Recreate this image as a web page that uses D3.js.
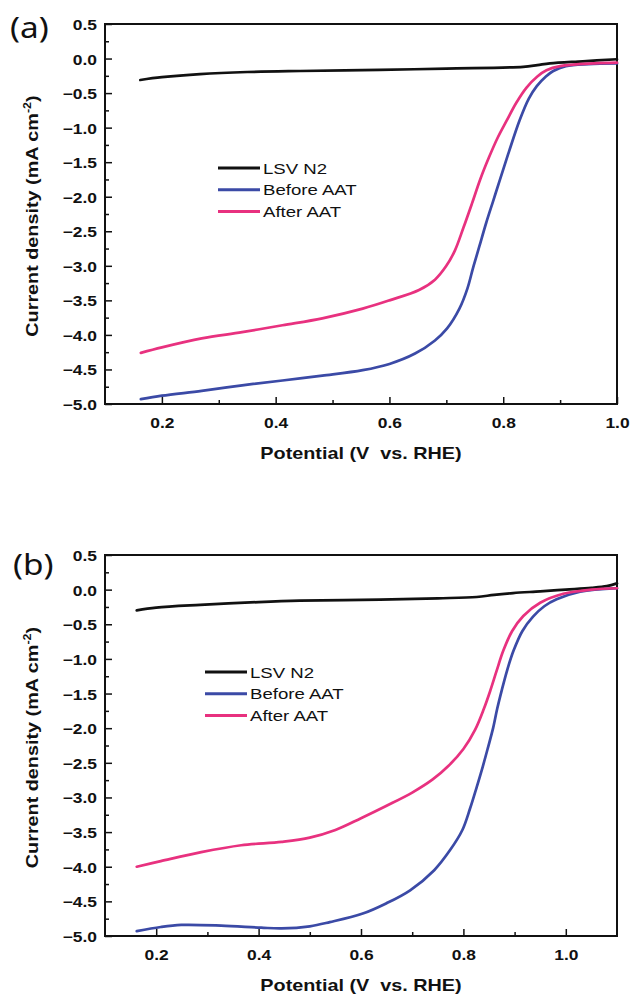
<!DOCTYPE html>
<html lang="en">
<head>
<meta charset="UTF-8"/>
<title>LSV curves before and after AAT</title>
<script src="https://d3js.org/d3.v7.min.js"></script>
<style>
  body { margin: 0; background: #fff; }
  svg { display: block; }
  .tick text { font-family: "Liberation Sans", Arial, sans-serif; font-weight: bold; font-size: 14.5px; fill: #111; }
  .tick line { stroke: #111; stroke-width: 1.5px; }
  .frame { fill: none; stroke: #111; stroke-width: 2px; }
  .curve { fill: none; stroke-width: 2.7px; stroke-linejoin: round; stroke-linecap: round; }
  .title { font-family: "Liberation Sans", Arial, sans-serif; font-weight: bold; font-size: 16.5px; fill: #111; }
  .legend text { font-family: "Liberation Sans", Arial, sans-serif; font-size: 15.5px; fill: #111; }
  .panel-label { font-family: "Noto Sans", sans-serif; font-size: 29px; fill: #111; }
</style>
</head>
<body>
<svg id="chart" width="631" height="995"></svg>
<script>
// series shown in both panels
const seriesNames = ['LSV N2', 'Before AAT', 'After AAT'];

// axis ticks
const yMajor = [0.5, 0.0, -0.5, -1.0, -1.5, -2.0, -2.5, -3.0, -3.5, -4.0, -4.5, -5.0];
const yMinor = [0.25, -0.25, -0.75, -1.25, -1.75, -2.25, -2.75, -3.25, -3.75, -4.25, -4.75];
const xMajor = [0.2, 0.4, 0.6, 0.8, 1.0];
const xMinor = [0.3, 0.5, 0.7, 0.9];
const yDomain = [-5.0, 0.5];
const xDomainA = [0.1, 1.0];
const xDomainB = [0.1, 1.1];

// panel (a): [potential V vs RHE, current density mA cm-2]
const aN2 = [[0.162,-0.31],[0.2,-0.27],[0.267,-0.225],[0.35,-0.195],[0.443,-0.18],[0.583,-0.165],
  [0.7,-0.145],[0.835,-0.12],[0.86,-0.095],[0.882,-0.07],[0.94,-0.04],[1.0,-0.01]];
const aBefore = [[0.163,-4.93],[0.2,-4.88],[0.27,-4.81],[0.341,-4.73],[0.412,-4.66],[0.482,-4.59],
  [0.553,-4.51],[0.6,-4.42],[0.645,-4.27],[0.68,-4.08],[0.701,-3.91],[0.723,-3.62],[0.737,-3.33],
  [0.747,-3.03],[0.758,-2.72],[0.77,-2.38],[0.782,-2.07],[0.794,-1.76],[0.81,-1.35],[0.829,-0.89],
  [0.845,-0.58],[0.859,-0.4],[0.875,-0.26],[0.888,-0.18],[0.91,-0.11],[0.95,-0.08],[1.0,-0.07]];
const aAfter = [[0.163,-4.26],[0.2,-4.18],[0.27,-4.05],[0.341,-3.96],[0.412,-3.86],[0.482,-3.76],
  [0.553,-3.62],[0.6,-3.5],[0.652,-3.35],[0.68,-3.2],[0.7,-3.0],[0.715,-2.78],[0.73,-2.45],
  [0.745,-2.1],[0.76,-1.74],[0.775,-1.43],[0.79,-1.15],[0.806,-0.9],[0.823,-0.64],[0.841,-0.42],
  [0.86,-0.26],[0.876,-0.17],[0.9,-0.11],[0.96,-0.07],[1.0,-0.06]];

// panel (b)
const bN2 = [[0.162,-0.3],[0.2,-0.26],[0.286,-0.22],[0.4,-0.18],[0.48,-0.16],[0.637,-0.145],
  [0.75,-0.125],[0.826,-0.106],[0.86,-0.075],[0.897,-0.05],[0.95,-0.025],[1.0,0.0],[1.05,0.025],
  [1.08,0.05],[1.1,0.09]];
const bBefore = [[0.162,-4.93],[0.209,-4.87],[0.249,-4.84],[0.327,-4.85],[0.405,-4.88],[0.445,-4.89],
  [0.5,-4.86],[0.539,-4.8],[0.602,-4.68],[0.649,-4.53],[0.696,-4.34],[0.743,-4.05],[0.774,-3.76],
  [0.798,-3.47],[0.813,-3.16],[0.826,-2.85],[0.838,-2.55],[0.848,-2.28],[0.858,-2.0],[0.866,-1.72],
  [0.875,-1.45],[0.886,-1.15],[0.898,-0.88],[0.915,-0.6],[0.936,-0.39],[0.958,-0.24],[0.982,-0.14],
  [1.028,-0.03],[1.1,0.02]];
const bAfter = [[0.162,-4.0],[0.209,-3.92],[0.288,-3.79],[0.366,-3.69],[0.445,-3.64],[0.5,-3.58],
  [0.55,-3.47],[0.6,-3.3],[0.65,-3.12],[0.7,-2.93],[0.74,-2.74],[0.77,-2.55],[0.8,-2.3],
  [0.823,-2.02],[0.84,-1.72],[0.852,-1.47],[0.865,-1.17],[0.878,-0.88],[0.895,-0.6],[0.917,-0.38],
  [0.95,-0.19],[0.995,-0.06],[1.05,0.0],[1.1,0.02]];

const colors = ['#111111', '#3b4aa6', '#e8317f'];
const stretch = 'scale(1.2,1)';   // the figure's lettering is wider than Arial

const svg = d3.select('#chart');

function drawPanel(p) {
  const x = d3.scaleLinear().domain(p.xDomain).range([105, 617]);
  const y = d3.scaleLinear().domain(yDomain).range([p.bottom, p.top]);
  const g = svg.append('g');

  // minor ticks, inward
  g.append('g').attr('transform', `translate(0,${p.bottom})`)
    .call(d3.axisBottom(x).tickValues(xMinor).tickSize(-4).tickSizeOuter(0).tickFormat(''))
    .call(a => a.select('.domain').remove());
  g.append('g').attr('transform', 'translate(105,0)')
    .call(d3.axisLeft(y).tickValues(yMinor).tickSize(-4).tickSizeOuter(0).tickFormat(''))
    .call(a => a.select('.domain').remove());

  // major ticks + labels
  g.append('g').attr('transform', `translate(0,${p.bottom})`)
    .call(d3.axisBottom(x).tickValues(xMajor).tickSize(-7).tickSizeOuter(0).tickFormat(d3.format('.1f')))
    .call(a => a.select('.domain').remove())
    .call(a => a.selectAll('text').attr('y', 24).attr('dy', null).attr('transform', stretch));
  g.append('g').attr('transform', 'translate(105,0)')
    .call(d3.axisLeft(y).tickValues(yMajor).tickSize(-7).tickSizeOuter(0).tickFormat(d3.format('.1f')))
    .call(a => a.select('.domain').remove())
    .call(a => a.selectAll('text').attr('x', -8 / 1.2).attr('dy', '0.38em').attr('transform', stretch));

  g.append('rect').attr('class', 'frame')
    .attr('x', 105).attr('y', p.top).attr('width', 512).attr('height', p.bottom - p.top);

  const line = d3.line().x(d => x(d[0])).y(d => y(d[1])).curve(d3.curveCatmullRom.alpha(0.5));
  p.series.forEach((s, i) => {
    g.append('path').attr('class', 'curve').attr('d', line(s)).attr('stroke', colors[i]);
  });

  // legend
  const lg = g.append('g').attr('class', 'legend');
  seriesNames.forEach((name, i) => {
    const ly = p.legendY + i * 21.7;
    lg.append('line').attr('x1', p.legendX).attr('x2', p.legendX + 42)
      .attr('y1', ly).attr('y2', ly).attr('stroke', colors[i]).attr('stroke-width', 3);
    lg.append('text').attr('transform', `translate(${p.legendX + 45},${ly}) ${stretch}`)
      .attr('dy', '0.36em').text(name);
  });

  // axis titles
  g.append('text').attr('class', 'title')
    .attr('transform', `translate(361,${p.bottom + 55}) ${stretch}`)
    .attr('text-anchor', 'middle').style('white-space', 'pre')
    .text('Potential (V  vs. RHE)');
  const yt = g.append('text').attr('class', 'title')
    .attr('transform', `translate(38,${(p.top + p.bottom) / 2 + 2}) rotate(-90) ${stretch}`)
    .attr('text-anchor', 'middle');
  yt.append('tspan').text('Current density (mA cm');
  yt.append('tspan').attr('dy', -7).style('font-size', '10.5px').text('-2');
  yt.append('tspan').attr('dy', 7).text(')');

  g.append('text').attr('class', 'panel-label')
    .attr('transform', `translate(${p.labelX},${p.labelY}) scale(1.15,1)`)
    .text(p.label);
}

drawPanel({ label: '(a)', labelX: 10, labelY: 38, top: 24, bottom: 404, xDomain: xDomainA,
  series: [aN2, aBefore, aAfter], legendX: 218, legendY: 168 });
drawPanel({ label: '(b)', labelX: 13, labelY: 575, top: 555, bottom: 936, xDomain: xDomainB,
  series: [bN2, bBefore, bAfter], legendX: 205, legendY: 672 });
</script>
</body>
</html>
